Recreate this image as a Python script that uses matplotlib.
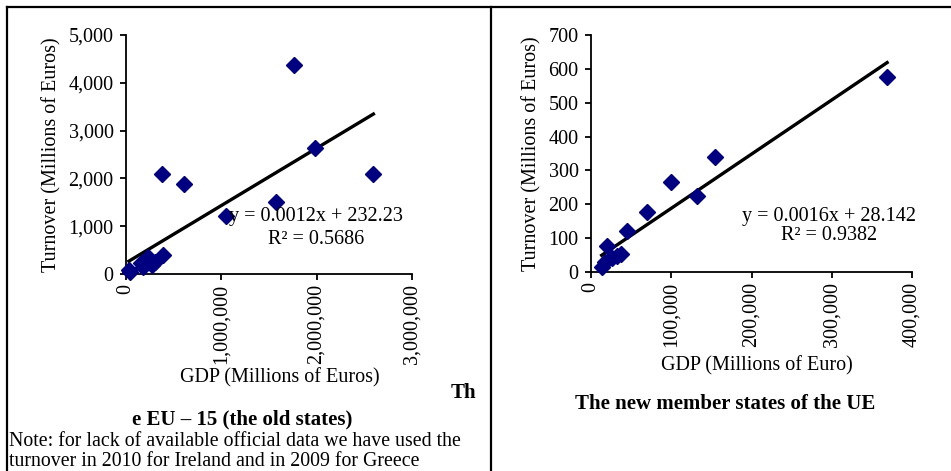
import matplotlib.pyplot as plt
import numpy as np
from matplotlib.lines import Line2D
from matplotlib.ticker import FuncFormatter

plt.rcParams['font.family'] = ['Liberation Serif', 'DejaVu Serif']

# EU-15 (old states): GDP vs turnover, millions of euros
old_gdp = [40000, 160000, 180000, 234000, 270000, 300000, 380000, 390000,
           612000, 1050000, 1574000, 1763000, 1983000, 2595000, 30000]
old_turnover = [50, 220, 150, 360, 190, 250, 2090, 390,
                1880, 1210, 1510, 4380, 2640, 2090, 80]
old_slope, old_intercept = 0.0012, 232.23
old_eq = "y = 0.0012x + 232.23"
old_r2 = "R² = 0.5686"

# new member states
new_gdp = [369000, 154500, 99300, 132000, 70000, 44400, 19500, 38000,
           32000, 13300, 17400, 25800]
new_turnover = [577, 341, 265, 224, 177, 120, 77, 53, 47, 16, 30, 40]
new_slope, new_intercept = 0.0016, 28.142
new_eq = "y = 0.0016x + 28.142"
new_r2 = "R² = 0.9382"

W, H = 951, 471
fig = plt.figure(figsize=(W / 100, H / 100), dpi=100)

def fx(x):
    return x / W

def fy(y):
    return 1 - y / H

FS = 14.5
fmt = FuncFormatter(lambda v, p: f"{v:,.0f}")

def setup(ax, xmax, ymax, xstep, ystep):
    ax.set_xlim(0, xmax)
    ax.set_ylim(0, ymax)
    ax.set_xticks(np.arange(0, xmax + 1, xstep))
    ax.set_yticks(np.arange(0, ymax + 1, ystep))
    ax.xaxis.set_major_formatter(fmt)
    ax.yaxis.set_major_formatter(fmt)
    for s in ['top', 'right']:
        ax.spines[s].set_visible(False)
    for s in ['left', 'bottom']:
        ax.spines[s].set_linewidth(1.3)
    ax.tick_params(axis='both', direction='out', length=4, width=1.3,
                   labelsize=FS, colors='black')
    ax.tick_params(axis='y', pad=5)
    ax.tick_params(axis='x', rotation=90, pad=3)
    ax.patch.set_alpha(0)

# left panel
ax1 = fig.add_axes([fx(126), fy(274), fx(286), 239 / H])
setup(ax1, 3e6, 5000, 1e6, 1000)
xs = np.array([min(old_gdp), max(old_gdp)])
ax1.plot(xs, old_slope * xs + old_intercept, color='black', lw=2.4)
ax1.plot(old_gdp, old_turnover, 'D', color='#000080', ms=8, clip_on=False, zorder=3)
ax1.set_ylabel("Turnover (Millions of Euros)", fontsize=FS, labelpad=5)
fig.text(fx(280), fy(378), "GDP (Millions of Euros)", fontsize=FS, ha='center', va='center')
fig.text(fx(316), fy(216), old_eq, fontsize=FS, ha='center', va='center')
fig.text(fx(316), fy(240), old_r2, fontsize=FS, ha='center', va='center')
fig.text(fx(476), fy(393), "Th", fontsize=15, fontweight='bold', ha='right', va='center')
fig.text(fx(242), fy(419), "e EU – 15 (the old states)", fontsize=15, fontweight='bold',
         ha='center', va='center')
fig.text(fx(9), fy(441), "Note: for lack of available official data we have used the",
         fontsize=14.3, ha='left', va='center')
fig.text(fx(9), fy(462), "turnover in 2010 for Ireland and in 2009 for Greece",
         fontsize=14.3, ha='left', va='center')

# right panel
ax2 = fig.add_axes([fx(591), fy(272), fx(321), 237 / H])
setup(ax2, 400000, 700, 100000, 100)
xs = np.array([min(new_gdp), max(new_gdp)])
ax2.plot(xs, new_slope * xs + new_intercept, color='black', lw=2.4)
ax2.plot(new_gdp, new_turnover, 'D', color='#000080', ms=8, clip_on=False, zorder=3)
ax2.set_ylabel("Turnover (Millions of Euros)", fontsize=FS, labelpad=5)
fig.text(fx(757), fy(366), "GDP (Millions of Euro)", fontsize=FS, ha='center', va='center')
fig.text(fx(829), fy(217), new_eq, fontsize=FS, ha='center', va='center')
fig.text(fx(829), fy(236), new_r2, fontsize=FS, ha='center', va='center')
fig.text(fx(725), fy(404), "The new member states of the UE", fontsize=15,
         fontweight='bold', ha='center', va='center')

# frame lines
for xd, yd in [([fx(7), 1], [fy(7), fy(7)]),
               ([fx(7), fx(7)], [0, fy(7)]),
               ([fx(491), fx(491)], [0, fy(7)])]:
    fig.add_artist(Line2D(xd, yd, color='black', lw=1.6, transform=fig.transFigure))

fig.savefig("out.png", dpi=100)
